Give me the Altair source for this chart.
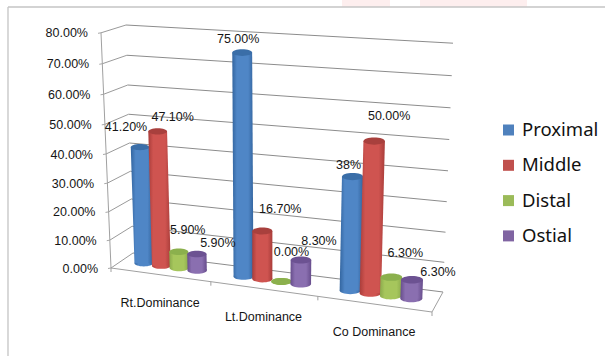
import altair as alt
import pandas as pd

# Share of lesions by site for each coronary dominance pattern
categories = ["Rt.Dominance", "Lt.Dominance", "Co Dominance"]
series_names = ["Proximal", "Middle", "Distal", "Ostial"]
proximal = [41.2, 75.0, 38.0]
middle = [47.1, 16.7, 50.0]
distal = [5.9, 0.0, 6.3]
ostial = [5.9, 8.3, 6.3]
series_values = [proximal, middle, distal, ostial]
value_labels = [
    ["41.20%", "75.00%", "38%"],
    ["47.10%", "16.70%", "50.00%"],
    ["5.90%", "0.00%", "6.30%"],
    ["5.90%", "8.30%", "6.30%"],
]
ticks = [0, 10, 20, 30, 40, 50, 60, 70, 80]

# Label nudges away from the top of each cylinder, per series then category
label_dx = [[-14, -4, -4], [15, 18, 15], [9, 10, 14], [21, 18, 26]]
label_dy = [[-20, -14, -12], [-14, -22, -25], [-22, -29, -24], [-11, -19, -8]]

# Cylinder colours: edge, highlight, cap
body_edge = ["#33659f", "#a93d3a", "#8aa94c", "#674d8c"]
body_mid = ["#4f86c6", "#cf5450", "#a6c65c", "#8a6fb0"]
cap_color = ["#3a6ea8", "#a8403d", "#8bb04d", "#6c5292"]
legend_color = ["#4F81BD", "#C0504D", "#9BBB59", "#8064A2"]

W, H = 605, 356
SLOT = 0.0605
BAR_WIDTH = 1.06
ELLIPSE = "M-1,0 A1,0.34 0 1,1 1,0 A1,0.34 0 1,1 -1,0 Z"


def project(s, v, w):
    """Oblique perspective: s along categories, v into depth, w the value axis."""
    u = s - 0.1 * s * (1 - s)
    fl = (111 - 10 * w / 80, 268 - w * (2.76 + 0.00225 * w))
    bl = (133 - 7 * w / 80, 253 - w * (2.65 + 0.0025 * w))
    br = (443 + 10 * w / 80, 292 - w * (2.95 + 0.002 * w))
    fr = (432 + 10 * w / 80, 312 - w * (3.05 + 0.002 * w))
    left = [fl[i] + (bl[i] - fl[i]) * v for i in (0, 1)]
    right = [fr[i] + (br[i] - fr[i]) * v for i in (0, 1)]
    return tuple(left[i] + (right[i] - left[i]) * u for i in (0, 1))


x_scale = alt.Scale(domain=[0, W], range=[0, W], nice=False)
y_scale = alt.Scale(domain=[0, H], range=[0, H], nice=False)
x_enc = alt.X("x:Q", scale=x_scale, axis=None)
y_enc = alt.Y("y:Q", scale=y_scale, axis=None)


def segments(rows, color, width=1.0):
    df = pd.DataFrame(rows, columns=["x", "y", "xe", "ye"])
    return alt.Chart(df).mark_rule(color=color, strokeWidth=width).encode(
        x=x_enc, y=y_enc, x2="xe:Q", y2="ye:Q"
    )


def texts(df, **kw):
    return alt.Chart(df).mark_text(baseline="middle", **kw).encode(x=x_enc, y=y_enc, text="t:N")


layers = []

# Frame of the figure and the pale shapes showing above it
band = pd.DataFrame({"x": [342, 420], "xe": [390, 527], "y": [0, 0], "ye": [7, 7]})
layers.append(alt.Chart(band).mark_rect(color="#fdeeee").encode(x=x_enc, x2="xe:Q", y=y_enc, y2="ye:Q"))
layers.append(segments([(8, 7, W, 7), (8, 7, 8, H)], "#c4c4c4", 1.3))

# Walls: gridlines on the back and left walls
back, side, stub = [], [], []
for w in ticks:
    bx0, by0 = project(0, 1, w)
    bx1, by1 = project(1, 1, w)
    fx, fy = project(0, 0, w)
    back.append((bx0, by0, bx1, by1))
    side.append((fx, fy, bx0, by0))
    stub.append((fx - 3, fy + 0.5, fx, fy))
layers.append(segments(back, "#8c8c8c", 1.0))
layers.append(segments(side, "#9a9a9a", 1.0))
layers.append(segments(stub, "#a8a8a8", 1.0))

# Value axis, floor edges and category separators
a0 = project(0, 0, 0)
a1 = project(0, 0, 80)
c0 = project(1, 0, 0)
c1 = project(1, 1, 0)
floor = [(a1[0], a1[1], a0[0], a0[1]), (a0[0], a0[1], c0[0], c0[1]), (c0[0], c0[1], c1[0], c1[1])]
for s in (0, 1 / 3, 2 / 3, 1):
    px, py = project(s, 0, 0)
    floor.append((px, py, px, py + 4))
layers.append(segments(floor, "#a0a0a0", 1.0))

# Cylinders, one series at a time so that each sits over the one on its left
for si, name in enumerate(series_names):
    bodies, bases, caps, = [], [], []
    for ci, value in enumerate(series_values[si]):
        s = (ci + 0.5) / 3 + (si - 1.5) * SLOT
        bx, by = project(s, 0.5, 0)
        tx, ty = project(s, 0.5, value)
        width = BAR_WIDTH * (project(s + SLOT / 2, 0.5, 0)[0] - project(s - SLOT / 2, 0.5, 0)[0])
        for cx, cy in ((bx, by), (tx, ty)):
            bodies.append({"bar": ci, "xl": cx - width / 2, "xr": cx + width / 2, "y": cy})
        bases.append({"x": bx, "y": by, "size": width * width})
        caps.append({"x": tx, "y": ty, "size": width * width})
    gradient = alt.Gradient(
        gradient="linear",
        x1=0, x2=1, y1=0, y2=0,
        stops=[
            alt.GradientStop(color=body_edge[si], offset=0),
            alt.GradientStop(color=body_mid[si], offset=0.22),
            alt.GradientStop(color=body_mid[si], offset=0.75),
            alt.GradientStop(color=body_edge[si], offset=1),
        ],
    )
    layers.append(
        alt.Chart(pd.DataFrame(bases))
        .mark_point(filled=True, shape=ELLIPSE, color=gradient, opacity=1)
        .encode(x=x_enc, y=y_enc, size=alt.Size("size:Q", scale=None, legend=None))
    )
    layers.append(
        alt.Chart(pd.DataFrame(bodies))
        .mark_area(orient="horizontal", color=gradient, opacity=1)
        .encode(
            x=alt.X("xl:Q", scale=x_scale, axis=None),
            x2="xr:Q",
            y=y_enc,
            detail="bar:N",
        )
    )
    layers.append(
        alt.Chart(pd.DataFrame(caps))
        .mark_point(filled=True, shape=ELLIPSE, color=cap_color[si], opacity=1)
        .encode(x=x_enc, y=y_enc, size=alt.Size("size:Q", scale=None, legend=None))
    )

label_style = dict(font="Liberation Sans", fontSize=12.5, color="#151515")

# Value axis labels
axis_rows = []
for w in ticks:
    fx, fy = project(0, 0, w)
    axis_rows.append({"x": fx - 13, "y": fy + 0.5, "t": f"{w:.2f}%"})
layers.append(texts(pd.DataFrame(axis_rows), align="right", **label_style))

# Category labels under the front floor edge
cat_rows = []
for ci, name in enumerate(categories):
    px, py = project((ci + 0.5) / 3, 0, 0)
    cat_rows.append({"x": px, "y": py + 28, "t": name})
layers.append(texts(pd.DataFrame(cat_rows), align="center", **label_style))

# Value labels beside each cylinder top
value_rows = []
for si in range(len(series_names)):
    for ci, value in enumerate(series_values[si]):
        s = (ci + 0.5) / 3 + (si - 1.5) * SLOT
        tx, ty = project(s, 0.5, value)
        value_rows.append({"x": tx + label_dx[si][ci], "y": ty + label_dy[si][ci], "t": value_labels[si][ci]})
layers.append(texts(pd.DataFrame(value_rows), align="center", **label_style))

# Legend
legend_x, legend_y, legend_step = 508.5, 130, 35.3
swatches = pd.DataFrame(
    {
        "x": [legend_x] * 4,
        "y": [legend_y + i * legend_step for i in range(4)],
        "c": legend_color,
    }
)
layers.append(
    alt.Chart(swatches)
    .mark_square(size=121, opacity=1)
    .encode(x=x_enc, y=y_enc, color=alt.Color("c:N", scale=None, legend=None))
)
legend_rows = pd.DataFrame(
    {
        "x": [legend_x + 13.5] * 4,
        "y": [legend_y + i * legend_step for i in range(4)],
        "t": series_names,
    }
)
layers.append(texts(legend_rows, align="left", font="Noto Sans", fontSize=18.5, color="#111111"))

chart = (
    alt.layer(*layers)
    .properties(width=W, height=H, padding=0, autosize=alt.AutoSizeParams(type="none"), background="white")
    .configure_view(stroke=None)
)

chart.save("out.html", embed_options={"renderer": "svg", "actions": False})
